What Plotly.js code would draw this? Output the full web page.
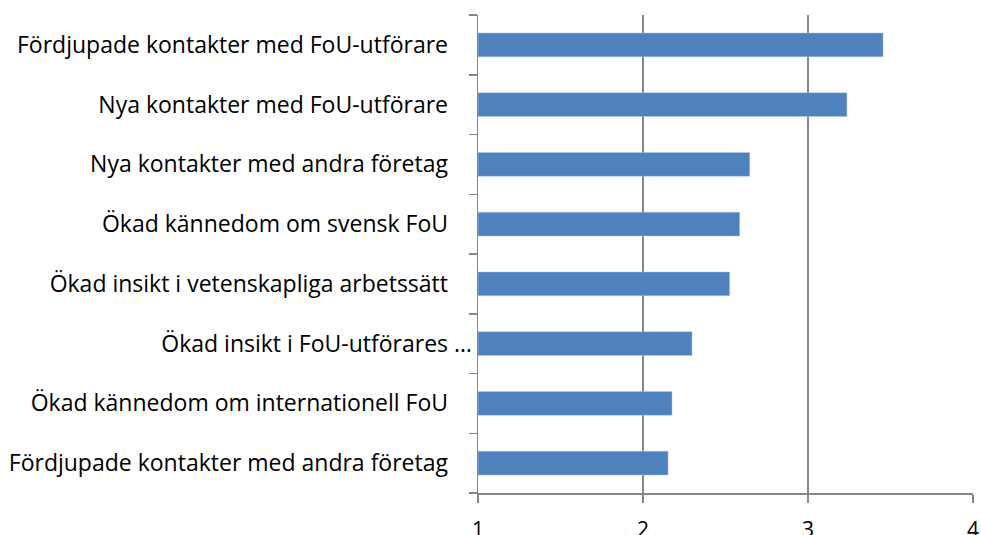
<!DOCTYPE html>
<html>
<head>
<meta charset="utf-8">
<script src="https://cdn.plot.ly/plotly-3.0.1.min.js"></script>
<style>
html,body{margin:0;padding:0;background:#fff;}
#chart{width:981px;height:535px;}
</style>
</head>
<body>
<div id="chart"></div>
<script>
var categories = [
  "Fördjupade kontakter med FoU-utförare",
  "Nya kontakter med FoU-utförare",
  "Nya kontakter med andra företag",
  "Ökad kännedom om svensk FoU",
  "Ökad insikt i vetenskapliga arbetssätt",
  "Ökad insikt i FoU-utförares …",
  "Ökad kännedom om internationell FoU",
  "Fördjupade kontakter med andra företag"
];
var values = [3.455, 3.236, 2.647, 2.586, 2.525, 2.297, 2.176, 2.152];
var xTicks = [1, 2, 3, 4];

var pad = "\u00a0\u00a0\u00a0\u00a0";
var labels = categories.map(function (c) {
  return c.slice(-1) === "…" ? c : c + pad;
});

var trace = {
  type: "bar",
  orientation: "h",
  x: values.map(function (v) { return v - 1; }),
  y: labels,
  base: 1,
  marker: {color: "#4F81BD", line: {color: "#B9CDE5", width: 0.5}},
  width: 0.4,
  hoverinfo: "x+y"
};

var layout = {
  width: 981,
  height: 535,
  margin: {l: 478, r: 8, t: 15, b: 42},
  paper_bgcolor: "#fff",
  plot_bgcolor: "#fff",
  showlegend: false,
  font: {family: "'Open Sans', Lato, sans-serif", color: "#000", size: 21},
  xaxis: {
    range: [1, 4],
    tickvals: xTicks,
    ticktext: xTicks.map(String),
    showgrid: true,
    gridcolor: "#868686",
    gridwidth: 1.5,
    zeroline: false,
    showline: true,
    linecolor: "#868686",
    linewidth: 1.5,
    ticks: "outside",
    ticklen: 8,
    tickwidth: 1.5,
    tickcolor: "#868686",
    ticklabelstandoff: 9,
    tickfont: {size: 21},
    fixedrange: true
  },
  yaxis: {
    type: "category",
    categoryorder: "array",
    categoryarray: labels.slice().reverse(),
    autorange: false,
    range: [-0.5, 7.5],
    showline: true,
    linecolor: "#868686",
    linewidth: 1.5,
    ticks: "outside",
    tickson: "boundaries",
    ticklen: 8,
    tickwidth: 1.5,
    tickcolor: "#868686",
    showgrid: false,
    zeroline: false,
    tickfont: {size: 23},
    fixedrange: true
  }
};

Plotly.newPlot("chart", [trace], layout, {displayModeBar: false, staticPlot: true});
</script>
</body>
</html>
